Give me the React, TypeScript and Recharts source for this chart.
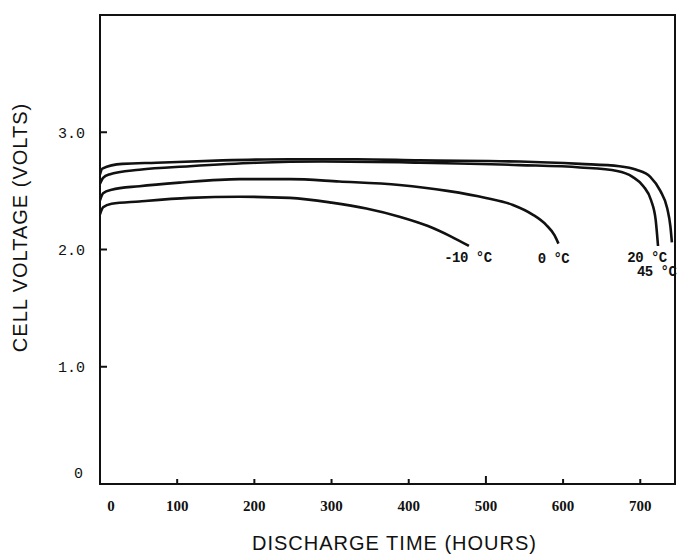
import React from "react";
import { LineChart, Line, XAxis, YAxis, ReferenceArea, Label } from "recharts";

// discharge curves (hours, volts)
const hoursM10 = [0, 4, 15, 51, 116, 181, 246, 300, 345, 388, 425, 455, 478];
const voltsM10 = [2.3, 2.36, 2.39, 2.41, 2.44, 2.45, 2.44, 2.4, 2.35, 2.28, 2.2, 2.11, 2.03];

const hours0 = [0, 4, 15, 51, 103, 181, 246, 310, 388, 450, 500, 535, 560, 578, 589, 594];
const volts0 = [2.42, 2.48, 2.51, 2.54, 2.57, 2.6, 2.6, 2.58, 2.55, 2.5, 2.44, 2.38, 2.3, 2.21, 2.12, 2.05];

const hours20 = [0, 4, 12, 51, 116, 203, 288, 414, 544, 622, 670, 690, 704, 714, 720, 723];
const volts20 = [2.56, 2.61, 2.64, 2.68, 2.71, 2.74, 2.75, 2.74, 2.72, 2.7, 2.67, 2.62, 2.54, 2.42, 2.25, 2.03];

const hours45 = [0, 3, 29, 73, 159, 246, 332, 414, 544, 622, 673, 695, 713, 726, 735, 739, 741];
const volts45 = [2.64, 2.69, 2.73, 2.74, 2.76, 2.77, 2.77, 2.76, 2.75, 2.73, 2.71, 2.68, 2.62, 2.5, 2.35, 2.2, 2.06];

const curveNames = ["-10 °C", "0 °C", "20 °C", "45 °C"];

const xTicks = [0, 100, 200, 300, 400, 500, 600, 700];
const yTicks = [0, 1, 2, 3];

const toPoints = (h: number[], v: number[]) => h.map((x, i) => ({ h: x, v: v[i] }));

const curves = [
  { name: curveNames[0], data: toPoints(hoursM10, voltsM10), dx: -1, dy: 16, anchor: "middle" },
  { name: curveNames[1], data: toPoints(hours0, volts0), dx: -5, dy: 19, anchor: "middle" },
  { name: curveNames[2], data: toPoints(hours20, volts20), dx: -11, dy: 16, anchor: "middle" },
  { name: curveNames[3], data: toPoints(hours45, volts45), dx: -35, dy: 34, anchor: "start" },
];

const endLabel = (text: string, last: number, dx: number, dy: number, anchor: string) => (props: any) => {
  const { x, y, index } = props;
  if (index !== last) return null;
  return (
    <text x={x + dx} y={y + dy} textAnchor={anchor} fontFamily="Liberation Mono" fontWeight="bold"
      fontSize={14} letterSpacing={-0.5} fill="#111">
      {text}
    </text>
  );
};

// tick marks point into the plot, drawn together with the label
const XTick = (props: any) => {
  const { x, y, payload } = props;
  const v = payload.value;
  return (
    <g>
      {v !== 0 && <line x1={x} x2={x} y1={y - 16} y2={y - (v === 500 ? 24 : 21)} stroke="#111" strokeWidth={2} />}
      <text x={v === 0 ? x + 11 : x} y={y} dy="0.71em" textAnchor="middle"
        fontFamily="Liberation Serif" fontWeight="bold" fontSize={15} fill="#111">
        {v}
      </text>
    </g>
  );
};

const YTick = (props: any) => {
  const { x, y, payload } = props;
  const v = payload.value;
  return (
    <g>
      {v !== 0 && <line x1={x + 15} x2={x + 22} y1={y} y2={y} stroke="#111" strokeWidth={2} />}
      <text x={v === 0 ? x - 2 : x} y={v === 0 ? y - 11 : y} dy="0.35em" textAnchor="end"
        fontFamily="Liberation Mono" fontSize={15} fill="#111">
        {v === 0 ? "0" : v.toFixed(1)}
      </text>
    </g>
  );
};

const XTitle = (props: any) => {
  const vb = props.viewBox;
  return (
    <text x={vb.x + vb.width / 2 + 7} y={vb.y + 66} textAnchor="middle"
      fontFamily="Liberation Sans" fontSize={20} letterSpacing={1} fill="#111">
      DISCHARGE TIME (HOURS)
    </text>
  );
};

const YTitle = (props: any) => {
  const vb = props.viewBox;
  const cx = 19.5;
  const cy = vb.y + vb.height / 2 - 22;
  return (
    <text x={cx} y={cy} dy="0.35em" textAnchor="middle" transform={`rotate(-90, ${cx}, ${cy})`}
      fontFamily="Liberation Sans" fontSize={20} letterSpacing={1} fill="#111">
      CELL VOLTAGE (VOLTS)
    </text>
  );
};

export default function App() {
  return (
    <div style={{ position: "absolute", left: 0, top: 0, background: "#fff" }}>
      <LineChart width={678} height={554} margin={{ top: 15, right: 3, left: 0, bottom: 0 }}>
        <XAxis type="number" dataKey="h" domain={[0, 745]} ticks={xTicks} allowDataOverflow
          height={70} tickSize={0} tickMargin={16} tick={<XTick />} tickLine={false}
          axisLine={{ stroke: "#111", strokeWidth: 2 }}>
          <Label content={<XTitle />} />
        </XAxis>
        <YAxis type="number" domain={[0, 4]} ticks={yTicks} allowDataOverflow
          width={100} tickSize={0} tickMargin={15} tick={<YTick />} tickLine={false}
          axisLine={{ stroke: "#111", strokeWidth: 2 }}>
          <Label content={<YTitle />} />
        </YAxis>
        <ReferenceArea x1={0} x2={745} y1={0} y2={4} fill="none" stroke="#111" strokeWidth={2} ifOverflow="visible" />
        {curves.map((c) => (
          <Line key={c.name} data={c.data} dataKey="v" type="monotone" stroke="#111" strokeWidth={2.6}
            dot={false} isAnimationActive={false}
            label={endLabel(c.name, c.data.length - 1, c.dx, c.dy, c.anchor)} />
        ))}
      </LineChart>
    </div>
  );
}
